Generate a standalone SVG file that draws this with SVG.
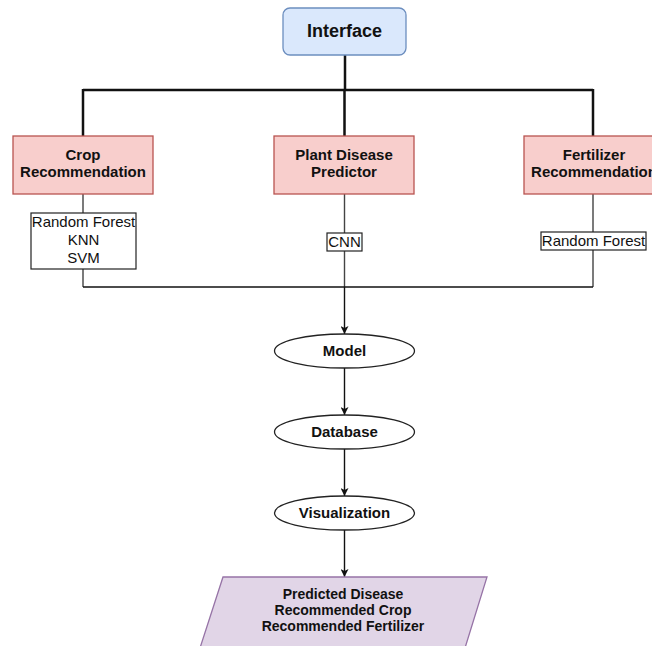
<svg xmlns="http://www.w3.org/2000/svg" width="652" height="646" viewBox="0 0 652 646">
<style>
.b{font-family:"Liberation Sans",Arial,sans-serif;font-weight:bold;fill:#111;text-anchor:middle}
.r{font-family:"Liberation Sans",Arial,sans-serif;fill:#111;text-anchor:middle;font-size:15px}
.red{fill:#f8cecc;stroke:#b85450;stroke-width:1.3}
.lbl{fill:#fff;stroke:#222;stroke-width:1.2}
.ell{fill:#fff;stroke:#222;stroke-width:1.3}
.thick{stroke:#111;stroke-width:2.5;fill:none}
.thin{stroke:#444;stroke-width:1.4;fill:none}
.arr{stroke:#111;stroke-width:1.4;fill:none;marker-end:url(#ah)}
</style>
<defs>
<marker id="ah" viewBox="0 0 10 10" refX="10" refY="5" markerWidth="8" markerHeight="8" markerUnits="userSpaceOnUse" orient="auto">
<path d="M0,0 L10,5 L0,10 L2.5,5 z" fill="#111"/>
</marker>
</defs>
<rect width="652" height="646" fill="#fff"/>
<g id="connectors">
<path class="thick" d="M345,55 V90 M83,90 H593 M83,89 V136 M344.5,89 V136 M593,89 V136"/>
<path class="thin" d="M83,194 V213 M83,269 V287 M344.5,194 V233 M344.5,251 V287 M593,194 V232 M593,250 V287"/>
<path stroke="#111" stroke-width="1.5" fill="none" d="M83,287 H593"/>
<path class="arr" d="M344.5,287 V334"/>
<path class="arr" d="M344.5,368 V415"/>
<path class="arr" d="M344.5,449 V496"/>
<path class="arr" d="M344.5,530 V577"/>
</g>
<g id="interface">
<rect x="283" y="8" width="123" height="47" rx="7" fill="#dae8fc" stroke="#6c8ebf" stroke-width="1.3"/>
<text class="b" x="344.5" y="37" font-size="18">Interface</text>
</g>
<g id="crop">
<rect class="red" x="13" y="136" width="140" height="58"/>
<text class="b" x="83" y="160" font-size="15">Crop</text>
<text class="b" x="83" y="177" font-size="15">Recommendation</text>
</g>
<g id="crop-algos">
<rect class="lbl" x="31" y="213" width="105" height="56"/>
<text class="r" x="83.5" y="227">Random Forest</text>
<text class="r" x="83.5" y="245">KNN</text>
<text class="r" x="83.5" y="263">SVM</text>
</g>
<g id="plant">
<rect class="red" x="274" y="136" width="140" height="58"/>
<text class="b" x="344" y="160" font-size="15">Plant Disease</text>
<text class="b" x="344" y="177" font-size="15">Predictor</text>
</g>
<g id="plant-algo">
<rect class="lbl" x="327" y="233" width="35" height="18"/>
<text class="r" x="344.5" y="247">CNN</text>
</g>
<g id="fertilizer">
<rect class="red" x="524" y="136" width="140" height="58"/>
<text class="b" x="594" y="160" font-size="15">Fertilizer</text>
<text class="b" x="594" y="177" font-size="15">Recommendation</text>
</g>
<g id="fert-algo">
<rect class="lbl" x="541" y="232" width="105" height="18"/>
<text class="r" x="593.5" y="246">Random Forest</text>
</g>
<g id="model">
<ellipse class="ell" cx="344.5" cy="351" rx="70" ry="17"/>
<text class="b" x="344.5" y="356" font-size="15">Model</text>
</g>
<g id="database">
<ellipse class="ell" cx="344.5" cy="432" rx="70" ry="17"/>
<text class="b" x="344.5" y="437" font-size="15">Database</text>
</g>
<g id="visualization">
<ellipse class="ell" cx="344.5" cy="513" rx="70" ry="17"/>
<text class="b" x="344.5" y="518" font-size="15">Visualization</text>
</g>
<g id="output">
<polygon points="223,577 487,577 465,648 200,648" fill="#e1d5e7" stroke="#9673a6" stroke-width="1.3"/>
<text class="b" x="343" y="599" font-size="14">Predicted Disease</text>
<text class="b" x="343" y="615" font-size="14">Recommended Crop</text>
<text class="b" x="343" y="631" font-size="14">Recommended Fertilizer</text>
</g>
</svg>
